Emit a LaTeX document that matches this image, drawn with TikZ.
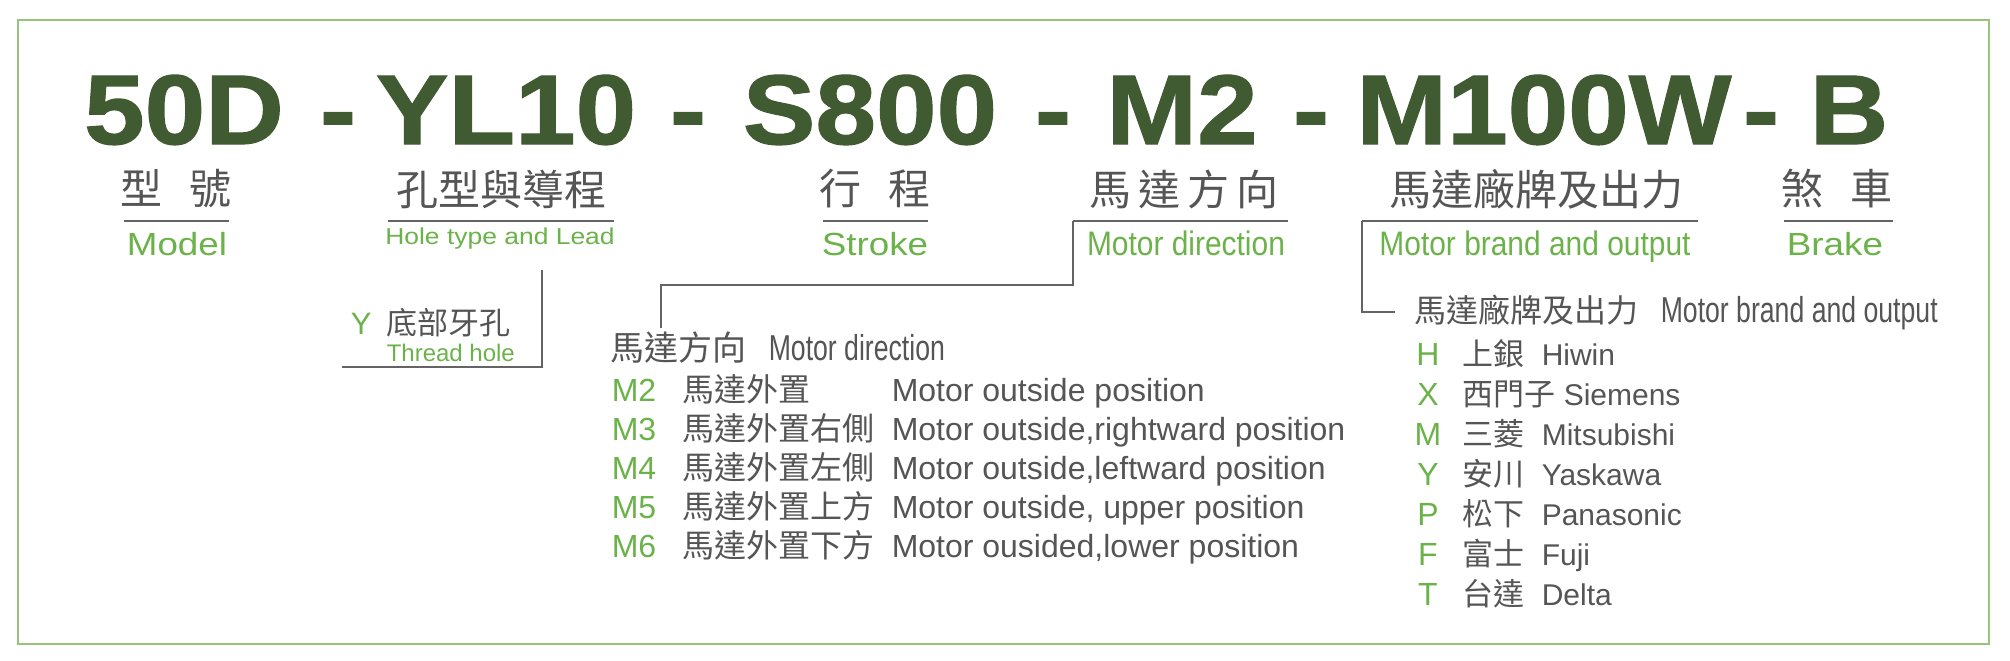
\documentclass[tikz,border=0pt]{standalone}
\usepackage{fontspec}
\setmainfont{Liberation Sans}
\newfontfamily\titlefont[FakeStretch=1.1,FakeBold=1.2]{Liberation Sans}
\newfontfamily\widefont[FakeStretch=1.15]{Liberation Sans}
\newfontfamily\narrowfont[FakeStretch=0.88]{Liberation Sans}
\newfontfamily\condfont[FakeStretch=0.74]{Liberation Sans}
\newfontfamily\cjk{Noto Sans CJK TC}
\usetikzlibrary{positioning}
\definecolor{titlegreen}{RGB}{64,90,50}
\definecolor{labelgreen}{RGB}{108,178,74}
\definecolor{framegreen}{RGB}{150,196,125}
\definecolor{textgray}{RGB}{85,85,85}
\definecolor{linegray}{RGB}{100,100,100}
\tikzset{every picture/.style={line width=0.75pt}}

\begin{document}
\begin{tikzpicture}[x=0.5pt,y=0.5pt,yscale=-1,xscale=1,
	codepart/.style={anchor=base,inner sep=0pt,text=titlegreen,font=\titlefont\bfseries\fontsize{49.5}{50}\selectfont},
	cnhead/.style={anchor=center,inner sep=0pt,text=textgray,font=\cjk\fontsize{21}{22}\selectfont},
	enwide/.style={anchor=base,inner sep=0pt,text=labelgreen,font=\widefont\fontsize{16}{18}\selectfont},
	ennarrow/.style={anchor=base,inner sep=0pt,text=labelgreen,font=\narrowfont\fontsize{17}{19}\selectfont},
	cnitem/.style={anchor=base west,inner sep=0pt,text=textgray,font=\cjk\fontsize{16}{18}\selectfont},
	enitem/.style={anchor=base west,inner sep=0pt,text=textgray,font=\fontsize{16}{18}\selectfont},
	letter/.style={anchor=base west,inner sep=0pt,text=labelgreen,font=\fontsize{16}{18}\selectfont},
	rule/.style={draw=linegray,line width=0.6pt}]
	\path[use as bounding box] (0,0) rectangle (2010,660);

	%Shape: Rectangle [id:frame]
	\draw[framegreen,line width=0.8pt] (18,20) rectangle (1989,644);

	% Text Node
	\node[codepart] (part-model) at (184,144) {50D};
	\node[codepart] (dash-a) at (338,144) {-};
	\node[codepart] (part-hole) at (506,144) {YL10};
	\node[codepart] (dash-b) at (688,144) {-};
	\node[codepart] (part-stroke) at (870,144) {S800};
	\node[codepart] (dash-c) at (1053,144) {-};
	\node[codepart] (part-dir) at (1182,144) {M2};
	\node[codepart] (dash-d) at (1311,144) {-};
	\node[codepart] (part-brand) at (1544,144) {M100W};
	\node[codepart] (dash-e) at (1761,144) {-};
	\node[codepart] (part-brake) at (1849,144) {B};

	% Text Node
	\node[cnhead] (cn-model) at (176,189) {型\hspace{0.65em}號};
	\node[cnhead] (cn-hole) at (501,189) {孔型與導程};
	\node[cnhead] (cn-stroke) at (875,189) {行\hspace{0.65em}程};
	\node[cnhead] (cn-dir) at (1184,189) {馬\,達\,方\,向};
	\node[cnhead] (cn-brand) at (1536,189) {馬達廠牌及出力};
	\node[cnhead] (cn-brake) at (1837,189) {煞\hspace{0.65em}車};

	%Straight Lines [id:underlines]
	\coordinate (ul-model-l) at (124,221);
	\coordinate (ul-model-r) at (229,221);
	\coordinate (ul-hole-l) at (388,221);
	\coordinate (ul-hole-r) at (614,221);
	\coordinate (ul-stroke-l) at (823,221);
	\coordinate (ul-stroke-r) at (928,221);
	\coordinate (ul-dir-l) at (1073,221);
	\coordinate (ul-dir-r) at (1288,221);
	\coordinate (ul-brand-l) at (1362,221);
	\coordinate (ul-brand-r) at (1698,221);
	\coordinate (ul-brake-l) at (1784,221);
	\coordinate (ul-brake-r) at (1893,221);
	\draw[rule] (ul-model-l) -- (ul-model-r);
	\draw[rule] (ul-hole-l) -- (ul-hole-r);
	\draw[rule] (ul-stroke-l) -- (ul-stroke-r);
	\draw[rule] (ul-dir-l) -- (ul-dir-r);
	\draw[rule] (ul-brand-l) -- (ul-brand-r);
	\draw[rule] (ul-brake-l) -- (ul-brake-r);

	% Text Node
	\node[enwide] (en-model) at (177,255) {Model};
	\node[enwide,font=\widefont\fontsize{11.5}{13}\selectfont] (en-hole) at (500,244) {Hole type and Lead};
	\node[enwide] (en-stroke) at (875,255) {Stroke};
	\node[ennarrow] (en-dir) at (1186,255) {Motor direction};
	\node[ennarrow] (en-brand) at (1535,255) {Motor brand and output};
	\node[enwide] (en-brake) at (1835,255) {Brake};

	%Straight Lines [id:hole-bracket]
	\coordinate (hole-top) at (542,270);
	\coordinate (hole-corner) at (542,367);
	\coordinate (hole-end) at (342,367);
	\draw[rule] (hole-top) -- (hole-corner) -- (hole-end);
	% Text Node
	\node[letter,font=\fontsize{15.5}{17}\selectfont] (y-code) at (350,334) {Y};
	\node[cnitem,font=\cjk\fontsize{15.5}{17}\selectfont] (y-cn) at (386,334) {底部牙孔};
	\node[letter,font=\fontsize{12}{14}\selectfont] (y-en) at (386,361) {Thread hole};

	%Straight Lines [id:dir-bracket]
	\coordinate (dir-mid) at (1073,285);
	\coordinate (dir-turn) at (661,285);
	\coordinate (dir-end) at (661,328);
	\draw[rule] (ul-dir-l) -- (dir-mid) -- (dir-turn) -- (dir-end);
	% Text Node
	\node[cnitem,font=\cjk\fontsize{17}{19}\selectfont] (dir-head-cn) at (610,360) {馬達方向};
	\node[enitem,font=\condfont\fontsize{18}{20}\selectfont] (dir-head-en) at (768,360) {Motor direction};
	\node[letter] (m2-code) at (611,401) {M2};
	\node[cnitem] (m2-cn) at (682,401) {馬達外置};
	\node[enitem] (m2-en) at (891,401) {Motor outside position};
	\node[letter] (m3-code) at (611,440) {M3};
	\node[cnitem] (m3-cn) at (682,440) {馬達外置右側};
	\node[enitem] (m3-en) at (891,440) {Motor outside,rightward position};
	\node[letter] (m4-code) at (611,479) {M4};
	\node[cnitem] (m4-cn) at (682,479) {馬達外置左側};
	\node[enitem] (m4-en) at (891,479) {Motor outside,leftward position};
	\node[letter] (m5-code) at (611,518) {M5};
	\node[cnitem] (m5-cn) at (682,518) {馬達外置上方};
	\node[enitem] (m5-en) at (891,518) {Motor outside, upper position};
	\node[letter] (m6-code) at (611,557) {M6};
	\node[cnitem] (m6-cn) at (682,557) {馬達外置下方};
	\node[enitem] (m6-en) at (891,557) {Motor ousided,lower position};

	%Straight Lines [id:brand-bracket]
	\coordinate (brand-corner) at (1362,312);
	\coordinate (brand-end) at (1395,312);
	\draw[rule] (ul-brand-l) -- (brand-corner) -- (brand-end);
	% Text Node
	\node[cnitem] (brand-head-cn) at (1414,322) {馬達廠牌及出力};
	\node[enitem,font=\condfont\fontsize{18}{20}\selectfont] (brand-head-en) at (1660,322) {Motor brand and output};
	\node[letter,anchor=base] (h-code) at (1428,365) {H};
	\node[cnitem,font=\cjk\fontsize{15.5}{17}\selectfont] (h-cn) at (1462,365) {上銀};
	\node[enitem,font=\fontsize{15}{17}\selectfont] (h-en) at (1541,365) {Hiwin};
	\node[letter,anchor=base] (x-code) at (1428,405) {X};
	\node[cnitem,font=\cjk\fontsize{15.5}{17}\selectfont] (x-cn) at (1462,405) {西門子};
	\node[enitem,font=\fontsize{15}{17}\selectfont] (x-en) at (1563,405) {Siemens};
	\node[letter,anchor=base] (m-code) at (1428,445) {M};
	\node[cnitem,font=\cjk\fontsize{15.5}{17}\selectfont] (m-cn) at (1462,445) {三菱};
	\node[enitem,font=\fontsize{15}{17}\selectfont] (m-en) at (1541,445) {Mitsubishi};
	\node[letter,anchor=base] (ya-code) at (1428,485) {Y};
	\node[cnitem,font=\cjk\fontsize{15.5}{17}\selectfont] (ya-cn) at (1462,485) {安川};
	\node[enitem,font=\fontsize{15}{17}\selectfont] (ya-en) at (1541,485) {Yaskawa};
	\node[letter,anchor=base] (p-code) at (1428,525) {P};
	\node[cnitem,font=\cjk\fontsize{15.5}{17}\selectfont] (p-cn) at (1462,525) {松下};
	\node[enitem,font=\fontsize{15}{17}\selectfont] (p-en) at (1541,525) {Panasonic};
	\node[letter,anchor=base] (f-code) at (1428,565) {F};
	\node[cnitem,font=\cjk\fontsize{15.5}{17}\selectfont] (f-cn) at (1462,565) {富士};
	\node[enitem,font=\fontsize{15}{17}\selectfont] (f-en) at (1541,565) {Fuji};
	\node[letter,anchor=base] (t-code) at (1428,605) {T};
	\node[cnitem,font=\cjk\fontsize{15.5}{17}\selectfont] (t-cn) at (1462,605) {台達};
	\node[enitem,font=\fontsize{15}{17}\selectfont] (t-en) at (1541,605) {Delta};
\end{tikzpicture}
\end{document}
